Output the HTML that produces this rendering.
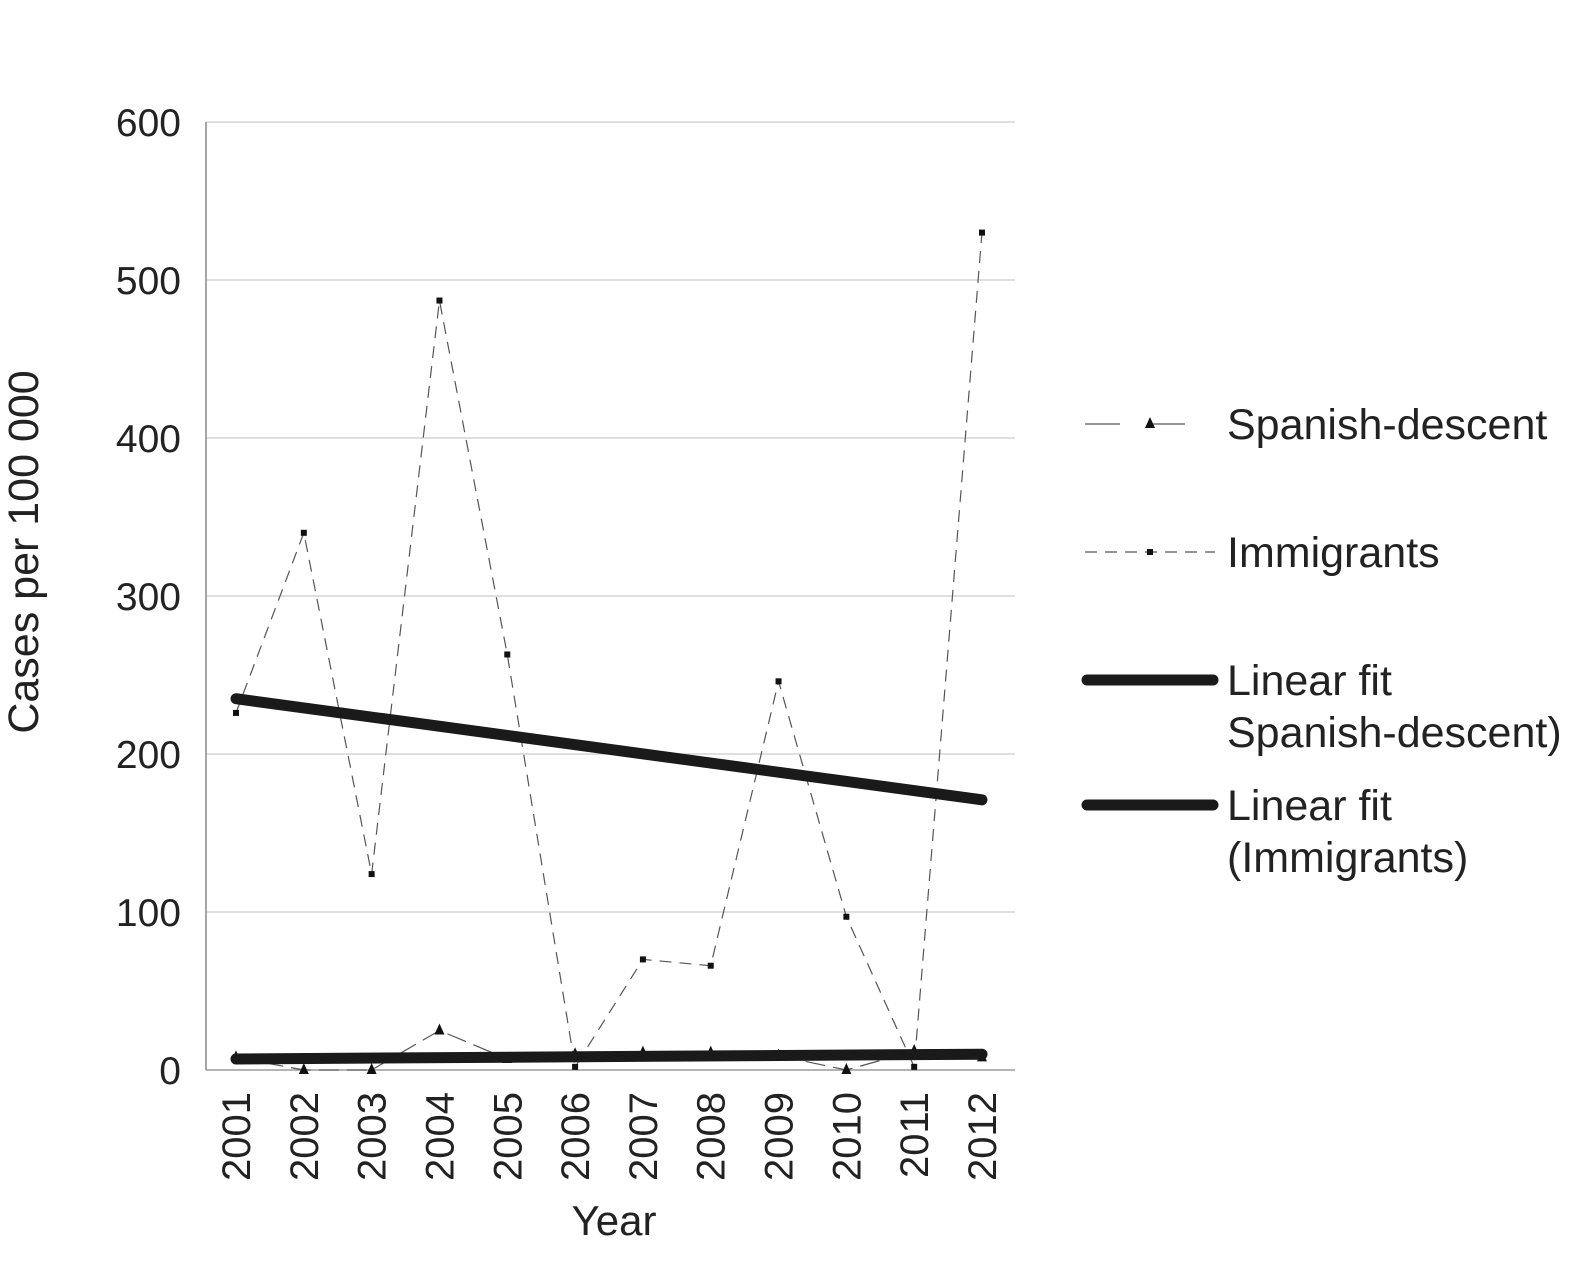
<!DOCTYPE html>
<html><head><meta charset="utf-8"><style>
body{margin:0;background:#fff}
svg text{font-family:"Liberation Sans",sans-serif;fill:#222}
</style></head><body>
<svg id="c" width="1593" height="1265"></svg>
<script>
const years=[2001,2002,2003,2004,2005,2006,2007,2008,2009,2010,2011,2012];
const spanish=[8,0,0,25,7,10,11,11,9,0,12,8];
const immigrants=[226,340,124,487,263,2,70,66,246,97,2,530];
const fitImm=[235,171];
const fitSpa=[7,10];
const yTicks=[0,100,200,300,400,500,600];
const NS='http://www.w3.org/2000/svg';
const svg=document.getElementById('c');
function X(i){return 236+i*(982-236)/11;}
function Y(v){return 1070-v*(1070-122)/600;}
function mk(t,a,p){const e=document.createElementNS(NS,t);for(const k in a)e.setAttribute(k,a[k]);(p||svg).appendChild(e);return e;}
yTicks.forEach(v=>{
 const l=mk('line',{x1:206,x2:1015,y1:Y(v),y2:Y(v),stroke:v==0?'#888':'#ccc','stroke-width':1.2});
 
 
 const t=mk('text',{x:181,y:Y(v)+14,'text-anchor':'end','font-size':39});
 t.textContent=v;
 
 
});
const ax=mk('line',{x1:206,x2:206,y1:122,y2:1070,stroke:'#888','stroke-width':1.5});


years.forEach((yr,i)=>{
 const t=mk('text',{x:0,y:0,'font-size':40,'text-anchor':'end',transform:`translate(${X(i)+14},1092) rotate(-90)`});
 t.textContent=yr;
 
 
});
const yt=mk('text',{x:0,y:0,'font-size':43,'text-anchor':'middle',transform:'translate(38,552) rotate(-90)'});
yt.textContent='Cases per 100 000';


const xt=mk('text',{x:614,y:1235,'font-size':42,'text-anchor':'middle'});
xt.textContent='Year';


const pi=mk('polyline',{points:immigrants.map((v,i)=>X(i)+','+Y(v)).join(' '),fill:'none',stroke:'#555','stroke-width':1.2,'stroke-dasharray':'12,8'});


immigrants.forEach((v,i)=>{
 const r=mk('rect',{x:X(i)-3,y:Y(v)-3,width:6,height:6,fill:'#111'});
 
 
});
const ps=mk('polyline',{points:spanish.map((v,i)=>X(i)+','+Y(v)).join(' '),fill:'none',stroke:'#555','stroke-width':1.2,'stroke-dasharray':'20,8'});


spanish.forEach((v,i)=>{
 const x=X(i),y=Y(v);
 const p=mk('polygon',{points:`${x},${y-7} ${x-5},${y+4} ${x+5},${y+4}`,fill:'#111'});
 
 
});
const f1=mk('line',{x1:X(0),x2:X(11),y1:Y(fitImm[0]),y2:Y(fitImm[1]),stroke:'#1a1a1a','stroke-width':11,'stroke-linecap':'round'});


const f2=mk('line',{x1:X(0),x2:X(11),y1:Y(fitSpa[0]),y2:Y(fitSpa[1]),stroke:'#1a1a1a','stroke-width':11,'stroke-linecap':'round'});


function leg(y,type,labels,name){
 const g=mk('g',{});
 
 
 if(type=='tri'){mk('line',{x1:1085,x2:1215,y1:y,y2:y,stroke:'#555','stroke-width':1.2,'stroke-dasharray':'35,30'},g);mk('polygon',{points:`1150,${y-7} 1145,${y+4} 1155,${y+4}`,fill:'#111'},g);}
 else if(type=='sq'){mk('line',{x1:1085,x2:1215,y1:y,y2:y,stroke:'#555','stroke-width':1.2,'stroke-dasharray':'12,8'},g);mk('rect',{x:1147,y:y-3,width:6,height:6,fill:'#111'},g);}
 else mk('line',{x1:1087,x2:1213,y1:y,y2:y,stroke:'#1a1a1a','stroke-width':11,'stroke-linecap':'round'},g);
 labels.forEach((s,k)=>{const t=mk('text',{x:1227,y:y+15+k*52,'font-size':43},g);t.textContent=s;});
}
leg(424,'tri',['Spanish-descent'],'legend-spanish');
leg(552,'sq',['Immigrants'],'legend-immigrants');
leg(680,'fit',['Linear fit','Spanish-descent)'],'legend-fit-spanish');
leg(805,'fit',['Linear fit','(Immigrants)'],'legend-fit-immigrants');
</script>
</body></html>
